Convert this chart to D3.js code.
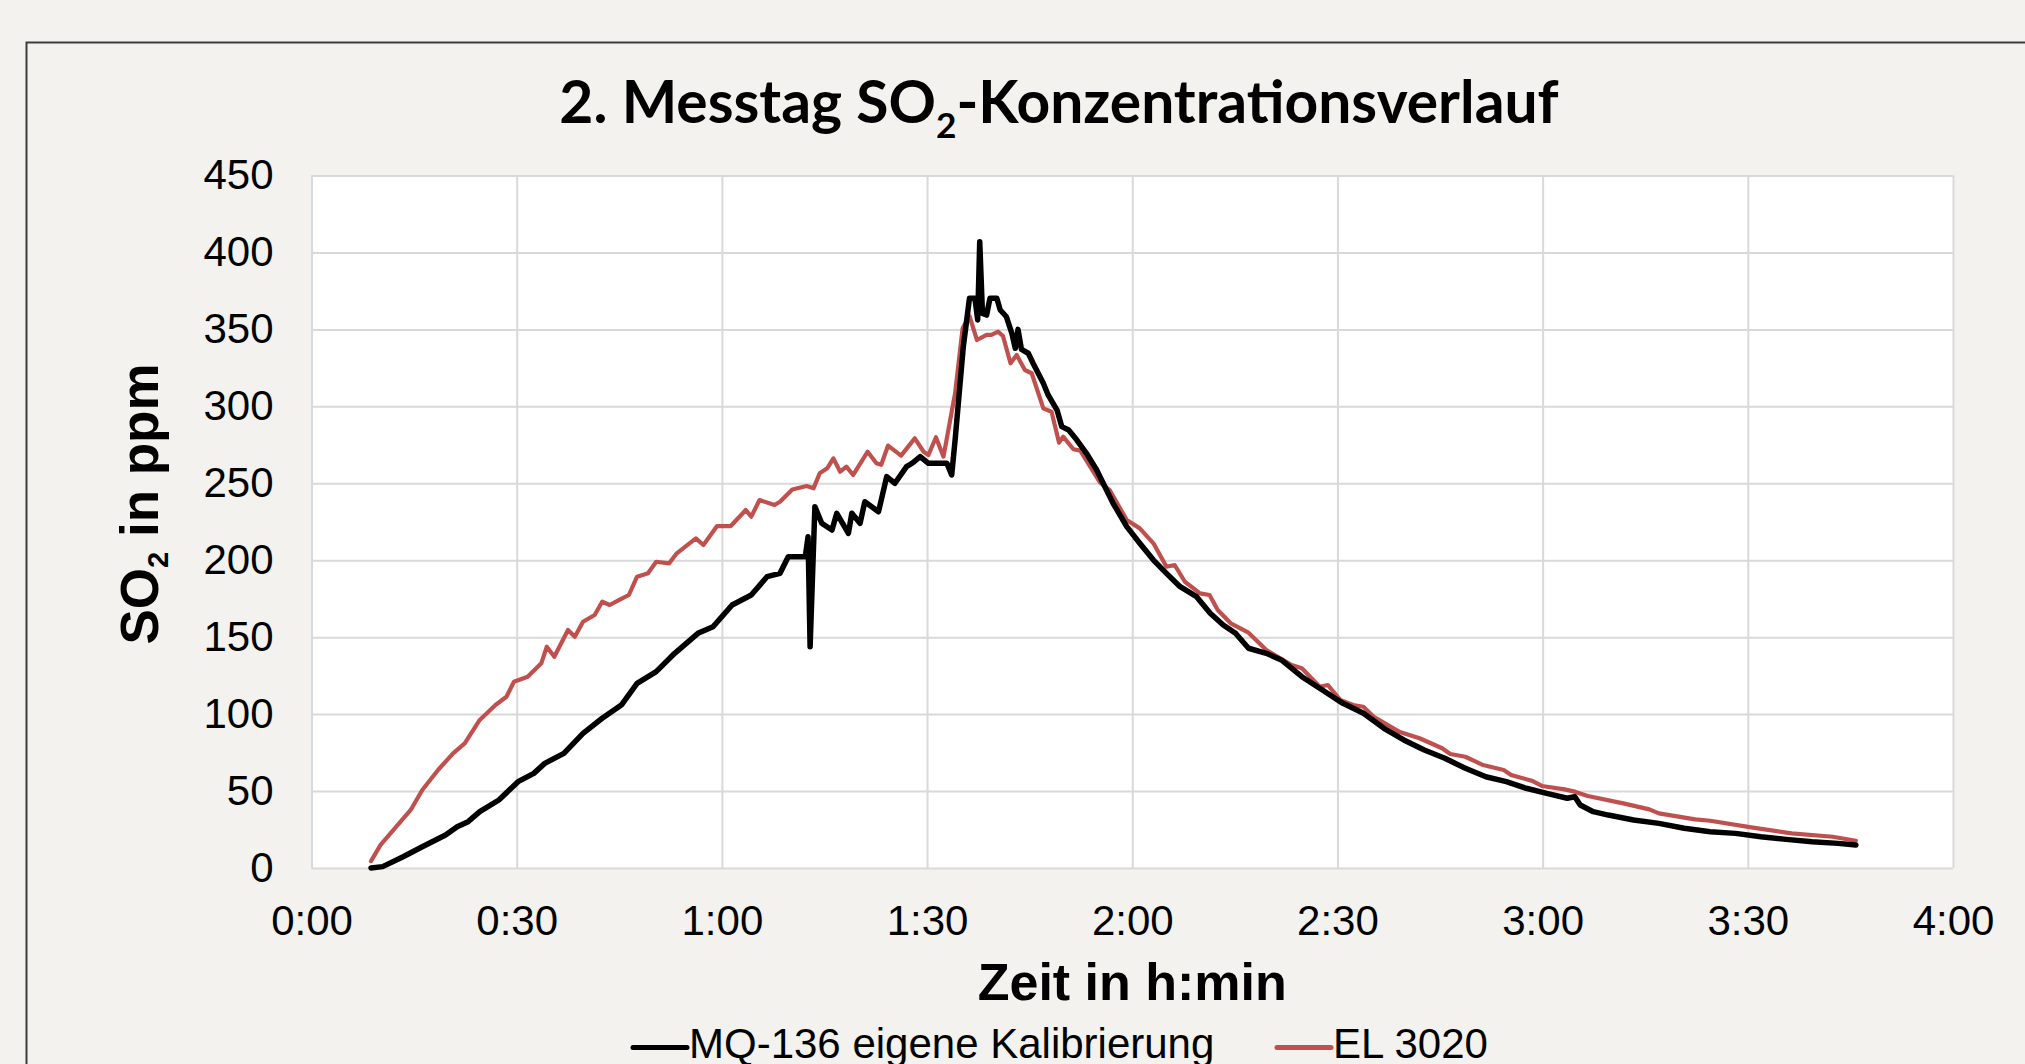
<!DOCTYPE html>
<html><head><meta charset="utf-8">
<script src="https://cdn.jsdelivr.net/npm/d3@7"></script>
<style>
html,body{margin:0;padding:0;background:#f3f2ee;}
svg{display:block}
</style></head><body>
<svg id="chart" width="2025" height="1064"></svg>
<script>
// ---- data (time in minutes since 0:00, SO2 in ppm) ----
const xTicks = [0, 30, 60, 90, 120, 150, 180, 210, 240];
const xTickLabels = ["0:00", "0:30", "1:00", "1:30", "2:00", "2:30", "3:00", "3:30", "4:00"];
const yTicks = [0, 50, 100, 150, 200, 250, 300, 350, 400, 450];
const seriesNames = ["MQ-136 eigene Kalibrierung", "EL 3020"];

const mqTime = [8.7, 10.4, 13.4, 16.2, 19.6, 21.3, 22.9, 24.6, 27.4, 30.2, 32.5, 34.1, 36.9, 39.7, 42.5, 45.3, 47.6, 50.4, 53.1, 56.5, 58.7, 61.5, 64.3, 66.6, 68.5, 69.7, 72.2, 72.6, 72.9, 73.6, 74.6, 76.1, 76.8, 78.5, 79.0, 80.2, 80.9, 82.9, 84.1, 85.3, 87.0, 87.8, 89.0, 90.2, 92.9, 93.6, 94.1, 95.3, 96.2, 97.0, 97.4, 97.7, 98.1, 98.7, 99.2, 100.2, 100.7, 101.6, 102.4, 102.9, 103.3, 103.8, 104.8, 105.5, 107.0, 107.7, 109.0, 109.7, 110.7, 111.9, 113.3, 114.8, 116.0, 117.2, 119.2, 121.1, 123.1, 125.0, 127.0, 129.4, 131.4, 133.3, 135.1, 137.0, 139.6, 141.8, 144.8, 147.8, 150.8, 153.8, 156.8, 159.7, 162.7, 165.7, 168.7, 171.7, 174.7, 177.6, 180.6, 183.6, 184.7, 185.5, 187.4, 189.6, 193.3, 197.0, 200.7, 204.5, 208.2, 211.9, 215.6, 219.4, 223.2, 225.8];
const mqValue = [0, 0.9, 7.3, 13.8, 21.4, 26.8, 30.1, 36.6, 44.2, 56.1, 61.5, 68, 74.5, 87.5, 97.3, 105.9, 120, 127.6, 139.5, 152.5, 156.8, 170.9, 177.4, 189.3, 191.5, 202.3, 202.3, 215.3, 143.8, 234.8, 224, 219.6, 230.5, 217.5, 230.5, 224, 238, 231.5, 254.3, 250, 260.8, 263, 267.3, 263, 263, 255.4, 278.1, 338.8, 370.2, 370.2, 356.1, 407, 360.4, 359.3, 370.2, 370.2, 362.6, 358.2, 347.4, 337.7, 350, 337, 334.5, 328, 315, 307.4, 297.6, 286.8, 284.6, 278.1, 269.5, 258.6, 247.8, 237, 221.8, 211, 200.1, 191.5, 182.8, 176.3, 165.5, 157.9, 152.5, 142.8, 139.5, 135.2, 124.3, 115.7, 107, 100.5, 90.8, 83.2, 76.7, 71.3, 64.8, 59.3, 56.1, 51.8, 48.5, 45.3, 46.3, 40.9, 36.6, 34.4, 31.2, 29, 25.8, 23.6, 22.5, 20.3, 18.6, 17.1, 16, 15];

const elTime = [8.7, 10.1, 14.5, 16.2, 18.5, 20.7, 22.4, 24.6, 26.9, 28.5, 29.6, 31.6, 33.6, 34.4, 35.5, 37.5, 38.5, 39.7, 41.4, 42.5, 43.6, 45.0, 46.4, 47.6, 49.2, 50.4, 52.3, 53.4, 56.2, 57.3, 59.3, 61.3, 63.5, 64.3, 65.5, 67.7, 68.5, 70.3, 72.4, 73.4, 74.3, 75.4, 76.3, 77.3, 78.2, 79.2, 81.3, 82.6, 83.3, 84.3, 86.2, 88.2, 89.5, 90.2, 91.3, 92.4, 94.1, 95.2, 96.2, 97.3, 98.7, 99.4, 100.4, 101.1, 102.2, 103.1, 104.3, 105.3, 107.0, 108.2, 109.3, 109.9, 111.4, 112.4, 115.3, 116.7, 119.2, 121.1, 123.1, 125.0, 126.2, 127.7, 129.9, 131.3, 132.5, 134.4, 137.0, 139.6, 143.3, 144.8, 147.4, 148.6, 150.4, 152.3, 153.8, 155.3, 159.0, 162.0, 165.3, 166.5, 168.7, 171.3, 174.3, 175.4, 178.4, 179.9, 183.2, 184.7, 186.6, 191.8, 195.6, 197.0, 202.3, 204.5, 210.5, 216.4, 222.4, 225.8];
const elValue = [4.5, 15, 37.7, 50.7, 63.7, 74.5, 81, 96.2, 105.9, 111.3, 121, 124.3, 133, 143.8, 137.3, 154.7, 150.3, 160, 164.4, 173, 170.9, 174.2, 177.4, 189.3, 191.5, 199, 198, 204.5, 214.2, 209.9, 222.2, 222.2, 232.6, 228.3, 239.1, 235.9, 238, 246, 248.2, 246.7, 256.5, 259.7, 266.2, 257.5, 260.8, 255.4, 270.5, 263, 262, 274.5, 268, 279.2, 270.5, 268.4, 279.9, 267.3, 308.5, 350.7, 358.7, 343.1, 346.4, 346.4, 348.5, 345.7, 328, 333.4, 323.6, 321.5, 298.7, 296.5, 276.4, 280.3, 272.1, 271.2, 250.4, 245.6, 226.1, 220.7, 211, 195.8, 196.9, 186, 178.5, 177.4, 167.7, 159, 152.9, 141.7, 131.9, 129.8, 117.8, 118.9, 109.2, 105.9, 104.8, 98.3, 88.6, 84.3, 77.8, 74.1, 72.3, 66.9, 63.7, 60.4, 56.7, 53.3, 51.1, 49.6, 46.8, 42, 38.1, 35.5, 31.6, 30.7, 26.4, 22.5, 20.3, 17.7];

// ---- layout ----
const W = 2025, H = 1064;
const P = {left: 311.5, right: 1953, top: 175.5, bottom: 868};
const BG = "#f3f2ee", GRID = "#d9d9d9";
const colors = ["#000000", "#c0504d"];

const svg = d3.select("#chart");
svg.append("rect").attr("width", W).attr("height", H).attr("fill", BG);
// chart frame
svg.append("path").attr("d", `M26.5,${H + 20} V42.5 H${W + 20}`)
  .attr("fill", "none").attr("stroke", "#3c3c3c").attr("stroke-width", 2);

const x = d3.scaleLinear().domain([0, 240]).range([P.left, P.right]);
const y = d3.scaleLinear().domain([0, 450]).range([P.bottom, P.top]);

// plot area
svg.append("rect").attr("x", P.left).attr("y", P.top)
  .attr("width", P.right - P.left).attr("height", P.bottom - P.top).attr("fill", "#ffffff");

// gridlines
const gx = svg.append("g").attr("transform", `translate(0,${P.bottom})`)
  .call(d3.axisBottom(x).tickValues(xTicks).tickSize(-(P.bottom - P.top)).tickFormat(""));
const gy = svg.append("g").attr("transform", `translate(${P.left},0)`)
  .call(d3.axisLeft(y).tickValues(yTicks).tickSize(-(P.right - P.left)).tickFormat(""));
[gx, gy].forEach(g => {
  g.select(".domain").remove();
  g.selectAll("line").attr("stroke", GRID).attr("stroke-width", 2);
});

// tick labels
const lblFont = "'Liberation Sans', Arial, sans-serif";
const ax = svg.append("g").attr("transform", `translate(0,${P.bottom})`)
  .call(d3.axisBottom(x).tickValues(xTicks).tickSize(0).tickPadding(37)
    .tickFormat((d, i) => xTickLabels[i]));
const ay = svg.append("g").attr("transform", `translate(${P.left},0)`)
  .call(d3.axisLeft(y).tickValues(yTicks).tickSize(0).tickPadding(38));
[ax, ay].forEach(g => {
  g.select(".domain").remove();
  g.selectAll("text").attr("font-family", lblFont).attr("font-size", 42).attr("fill", "#000");
});

// series
const line = d3.line().x(d => x(d[0])).y(d => y(d[1]));
const elData = elTime.map((t, i) => [t, elValue[i]]);
const mqData = mqTime.map((t, i) => [t, mqValue[i]]);
svg.append("path").datum(elData).attr("d", line).attr("fill", "none")
  .attr("stroke", colors[1]).attr("stroke-width", 4.2).attr("stroke-linejoin", "round").attr("stroke-linecap", "round");
svg.append("path").datum(mqData).attr("d", line).attr("fill", "none")
  .attr("stroke", colors[0]).attr("stroke-width", 5.5).attr("stroke-linejoin", "round").attr("stroke-linecap", "round");

// title
const title = svg.append("text").attr("x", 1059).attr("y", 123).attr("text-anchor", "middle")
  .attr("font-family", "Lato, 'Open Sans', sans-serif").attr("font-weight", 700)
  .attr("font-size", 57).attr("fill", "#000");
title.append("tspan").text("2. Messtag SO");
title.append("tspan").attr("font-size", "0.6em").attr("dy", 15).text("2");
title.append("tspan").attr("dy", -15).text("-Konzentrationsverlauf");
const tw = title.node().getBBox().width;
if (tw > 0) title.attr("font-size", 57 * 1000 / tw);

// axis titles
svg.append("text").attr("x", (P.left + P.right) / 2).attr("y", 1000).attr("text-anchor", "middle")
  .attr("font-family", lblFont).attr("font-weight", 700).attr("font-size", 52).attr("fill", "#000")
  .text("Zeit in h:min");
const yt = svg.append("text").attr("transform", "translate(158,504) rotate(-90)").attr("text-anchor", "middle")
  .attr("font-family", lblFont).attr("font-weight", 700).attr("font-size", 53).attr("fill", "#000");
yt.append("tspan").text("SO");
yt.append("tspan").attr("font-size", "0.55em").attr("dy", 10).text("2");
yt.append("tspan").attr("dy", -10).text(" in ppm");

// legend
const legendX = [633, 1277];
const lg = svg.append("g");
seriesNames.forEach((name, i) => {
  lg.append("line").attr("x1", legendX[i]).attr("x2", legendX[i] + 54)
    .attr("y1", 1047.5).attr("y2", 1047.5).attr("stroke", colors[i]).attr("stroke-width", 5)
    .attr("stroke-linecap", "round");
  lg.append("text").attr("x", legendX[i] + 56).attr("y", 1058)
    .attr("font-family", lblFont).attr("font-size", 42).attr("fill", "#000").text(name);
});
</script>
</body></html>
